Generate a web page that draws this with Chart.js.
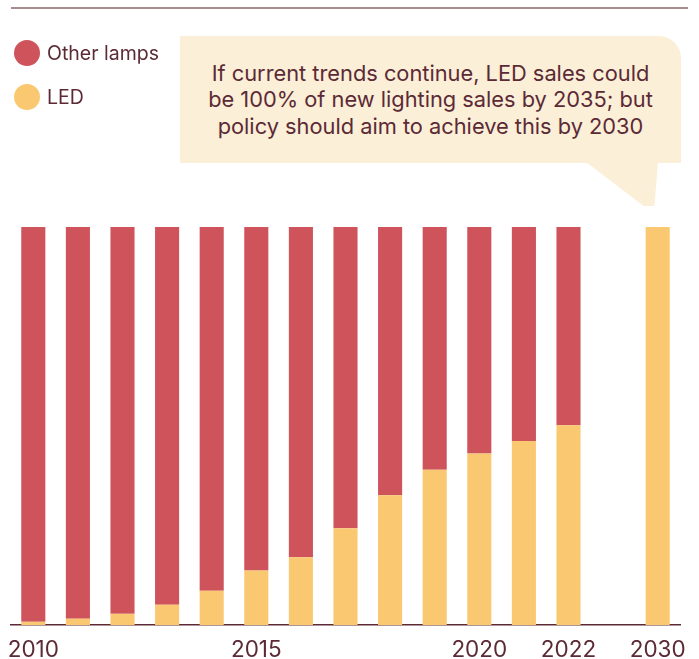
<!DOCTYPE html>
<html>
<head>
<meta charset="utf-8">
<script src="https://cdn.jsdelivr.net/npm/chart.js@4.4.1/dist/chart.umd.min.js"></script>
<style>
  html, body { margin: 0; padding: 0; background: #fff; overflow: hidden; }
  #wrap { position: relative; width: 699px; height: 659px; overflow: hidden; font-family: "Inter", "Noto Sans", sans-serif; color: #5b2a35; }
  #topRule { position: absolute; left: 11px; top: 7px; width: 677px; height: 2px; background: #a98c90; }
  .legend { position: absolute; left: 14px; font-size: 19.5px; display: flex; align-items: center; }
  .legend span.dot { width: 26px; height: 26px; border-radius: 50%; margin-right: 7px; display: inline-block; }
  #callout { position: absolute; left: 180px; top: 36px; width: 501px; height: 127px; background: #fcefd8;
             border-top-right-radius: 22px; font-size: 21.8px; line-height: 26.5px; text-align: center;
             display: flex; align-items: center; justify-content: center; }
  #tail { position: absolute; left: 586px; top: 162px; width: 72px; height: 44px; background: #fcefd8;
          clip-path: polygon(0 0, 100% 0, 95% 100%, 80% 100%, 80% 100%); }
  canvas { position: absolute; left: 0; top: 0; }
</style>
</head>
<body>
<div id="wrap">
  <canvas id="salesChart" width="699" height="676"></canvas>
  <div id="topRule"></div>
  <div class="legend" style="top:40px"><span class="dot" style="background:#ce535b"></span>Other lamps</div>
  <div class="legend" style="top:84px"><span class="dot" style="background:#fac870"></span>LED</div>
  <div id="tail"></div>
  <div id="callout"><div>If current trends continue, LED sales could<br>be 100% of new lighting sales by 2035; but<br>policy should aim to achieve this by 2030</div></div>
</div>
<script>
// Años (hueco entre 2022 y 2030)
const years = ['2010', '2011', '2012', '2013', '2014', '2015', '2016', '2017', '2018', '2019', '2020', '2021', '2022', '', '2030'];
const shownTicks = ['2010', '2015', '2020', '2022', '2030'];

// Cuota de ventas (%)
const ledShare = [0.8, 1.6, 2.8, 5.1, 8.6, 13.7, 17, 24.3, 32.6, 39, 43.1, 46.2, 50.2, null, 100];
const otherShare = [99.2, 98.4, 97.2, 94.9, 91.4, 86.3, 83, 75.7, 67.4, 61, 56.9, 53.8, 49.8, null, 0];

const ctx = document.getElementById('salesChart').getContext('2d');
const salesChart = new Chart(ctx, {
    type: 'bar',
    data: {
        labels: years,
        datasets: [
            { label: 'LED', data: ledShare, backgroundColor: '#fac870', borderWidth: 0 },
            { label: 'Other lamps', data: otherShare, backgroundColor: '#ce535b', borderWidth: 0 }
        ]
    },
    options: {
        responsive: false,
        animation: false,
        layout: { padding: { left: 11, right: 19, top: 227, bottom: 0 } },
        plugins: { legend: { display: false }, tooltip: { enabled: false } },
        datasets: { bar: { categoryPercentage: 1, barPercentage: 0.54 } },
        scales: {
            x: {
                stacked: true,
                // las etiquetas de los extremos pueden salirse del área
                afterFit: function (scale) {
                    scale.paddingLeft = 0;
                    scale.paddingRight = 0;
                },
                grid: { display: false, drawTicks: false },
                border: { display: true, color: '#5b2a35', width: 1.5 },
                ticks: {
                    autoSkip: false,
                    maxRotation: 0,
                    padding: 12,
                    color: '#5b2a35',
                    font: { family: 'Inter', size: 22.5 },
                    callback: function (val, i) {
                        const l = years[i];
                        return shownTicks.includes(l) ? l : '';
                    }
                }
            },
            y: { stacked: true, display: false, min: 0, max: 100 }
        }
    }
});
</script>
</body>
</html>
